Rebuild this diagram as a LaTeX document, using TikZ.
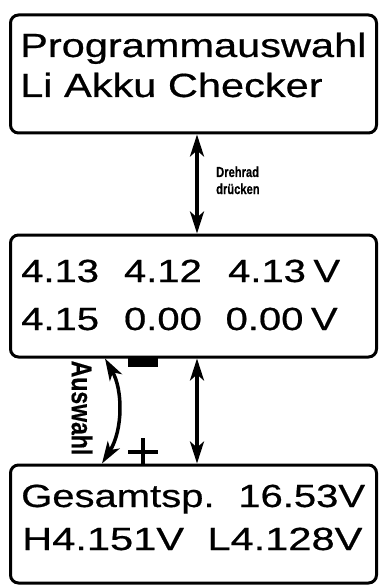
\documentclass[tikz,border=0pt]{standalone}
\usepackage{fontspec}
\setmainfont{Liberation Sans}
\newfontfamily\dispfont[FakeBold=0.5]{Liberation Sans}
\newfontfamily\lblfont[FakeBold=0.6]{Liberation Sans Bold}
\usetikzlibrary{arrows.meta}
\newcommand{\bigtxt}[1]{\scalebox{1.24}[1]{\fontsize{33.5}{33.5}\dispfont #1}}
\newcommand{\midtxt}[2][1.25]{\scalebox{#1}[1]{\fontsize{32}{32}\dispfont #2}}
\tikzset{
  panel/.style={draw, line width=3pt, rounded corners=8pt, minimum width=366pt, inner sep=0pt},
  txt/.style={inner sep=0pt, anchor=base west},
  conn/.style={line width=3.5pt, {Stealth[length=22pt,width=14pt,inset=6pt]}-{Stealth[length=22pt,width=14pt,inset=6pt]}},
}
\begin{document}
\begin{tikzpicture}[x=1pt,y=-1pt]
\useasboundingbox (0,0) rectangle (379,585);
% boxes
\node[panel, minimum height=118pt] (top) at (193.5,74) {};
\node[panel, minimum height=122pt] (mid) at (193.5,296) {};
\node[panel, minimum height=118pt] (bot) at (193.5,524) {};
% texts
\node[txt] (t1) at (20,57) {\bigtxt{Programmauswahl}};
\node[txt] (t2) at (20,97) {\bigtxt{Li Akku Checker}};
\node[txt] (m1) at (21,282) {\midtxt{4.13\hspace{20pt}4.12\hspace{21pt}4.13\hspace{6pt}V}};
\node[txt] (m2) at (21,330) {\midtxt{4.15\hspace{20pt}0.00\hspace{19pt}0.00\hspace{6pt}V}};
\node[txt] (b1) at (21,507) {\midtxt{Gesamtsp.\hspace{19pt}16.53V}};
\node[txt] (b2) at (22,550) {\midtxt[1.3]{H4.151V\hspace{18pt}L4.128V}};
% connectors
\coordinate (ax) at (197,0);
\draw[conn] (top.south -| ax) -- (mid.north -| ax);
\draw[conn] (mid.south -| ax) -- (bot.north -| ax);
\coordinate (c1) at (105,0);
\coordinate (c2) at (102,0);
\draw[conn] (mid.south -| c1) .. controls (123,390) and (123,430) .. (bot.north -| c2);
% labels
\node[inner sep=0pt, anchor=base west] (dr1) at (216,177) {\scalebox{0.77}[1]{\fontsize{14.5}{14.5}\lblfont Drehrad}};
\node[inner sep=0pt, anchor=base west] (dr2) at (216,194) {\scalebox{0.77}[1]{\fontsize{14.5}{14.5}\lblfont drücken}};
\node[inner sep=0pt] (ausw) at (82,408) {\scalebox{1.24}[1]{\rotatebox{-90}{\fontsize{23}{23}\lblfont Auswahl}}};
% minus and plus
\fill (128,357) rectangle (158,367);
\coordinate (pc) at (143,452);
\draw[line width=4pt] (128,452) -- (158,452);
\draw[line width=4pt] (143,438) -- (bot.north -| pc);
\end{tikzpicture}
\end{document}
